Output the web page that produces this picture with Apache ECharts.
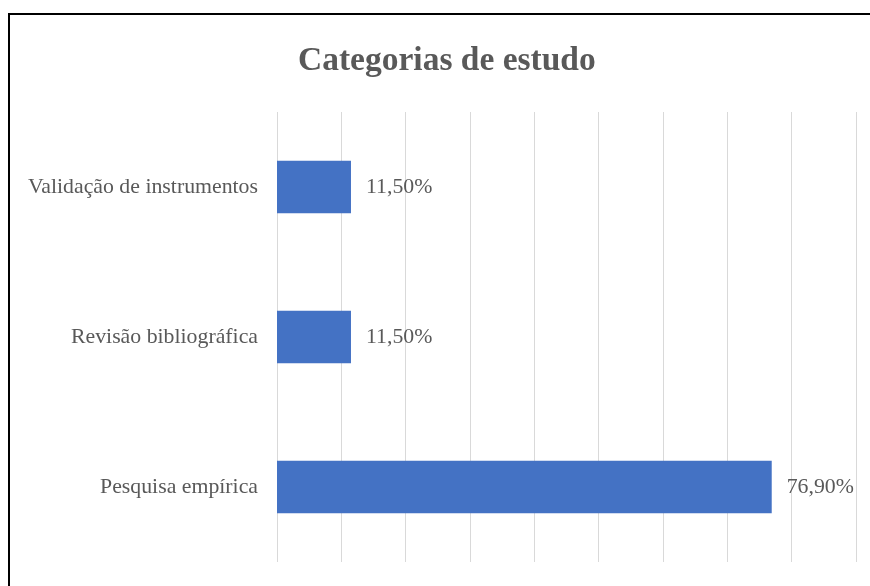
<!DOCTYPE html>
<html>
<head>
<meta charset="utf-8">
<script src="https://cdn.jsdelivr.net/npm/echarts@6/dist/echarts.min.js"></script>
<style>
    html, body { margin: 0; padding: 0; background: #fff; }
    #main { width: 870px; height: 586px; }
</style>
</head>
<body>
<div id="main"></div>
<script>
// dados do gráfico
var categorias = ['Pesquisa empírica', 'Revisão bibliográfica', 'Validação de instrumentos'];
var valores = [76.9, 11.5, 11.5];
var eixoTicks = [0, 10, 20, 30, 40, 50, 60, 70, 80, 90];

(function () {
    var myCharts = echarts.init(document.getElementById('main'));

    var fonte = '"Liberation Serif", "Times New Roman", serif';

    var option = {
        backgroundColor: '#ffffff',
        title: {
            text: 'Categorias de estudo',
            left: 293,
            top: 39,
            textStyle: {
                fontFamily: fonte,
                fontSize: 33.5,
                fontWeight: 'bold',
                color: '#595959'
            }
        },
        // moldura preta
        graphic: [{
            type: 'rect',
            shape: { x: 9, y: 14, width: 900, height: 600 },
            style: { fill: 'none', stroke: '#000', lineWidth: 2 },
            silent: true
        }],
        grid: {
            left: 277,
            right: 14,
            top: 112,
            bottom: 24,
            containLabel: false
        },
        xAxis: {
            type: 'value',
            min: eixoTicks[0],
            max: eixoTicks[eixoTicks.length - 1],
            interval: 10,
            axisLabel: { show: false },
            axisLine: { show: false },
            axisTick: { show: false },
            splitLine: {
                lineStyle: { color: '#d9d9d9', width: 1 }
            }
        },
        yAxis: {
            type: 'category',
            data: categorias,
            axisLine: { show: false },
            axisTick: { show: false },
            axisLabel: {
                margin: 19,
                fontFamily: fonte,
                fontSize: 21.8,
                color: '#595959'
            }
        },
        series: [{
            type: 'bar',
            data: valores,
            barWidth: '35%',
            itemStyle: { color: '#4472c4' },
            label: {
                show: true,
                position: 'right',
                distance: 15,
                fontFamily: fonte,
                fontSize: 21.8,
                color: '#595959',
                formatter: function (p) {
                    return p.value.toFixed(2).replace('.', ',') + '%';
                }
            }
        }]
    };

    myCharts.setOption(option);
})();
</script>
</body>
</html>
